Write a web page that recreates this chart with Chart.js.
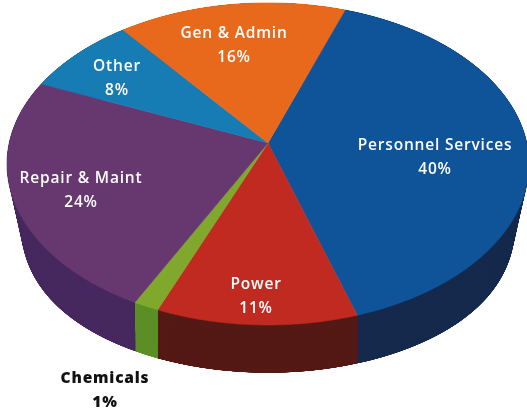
<!DOCTYPE html>
<html>
<head>
<meta charset="utf-8">
<style>html,body{margin:0;padding:0;background:#fff}canvas{display:block}</style>
<script src="https://cdn.jsdelivr.net/npm/chart.js@4"></script>
</head>
<body>
<canvas id="c" width="527" height="410"></canvas>
<script>
const categories = ["Personnel Services","Power","Chemicals","Repair & Maint","Other","Gen & Admin"];
const shares = [39.7,11.0,1.4,23.9,8.0,16.0];
const topColors = ["#0f5499","#c02a20","#7fa82c","#66386f","#187cb4","#e9691c"];
const sideColors = ["#15294c","#541914","#5b8f26","#46285f","#12567e","#c05a18"];
const labelColors = ["#fff","#fff","#111","#fff","#fff","#fff"];

// Perspective of the tilted disc and placement of the labels
const view = {cx:268, cy:143, A:258.8, B:158.3, k:0.13, s:0.96, sx:0.945, d:55};
const labelAt = [[435,150],[256,289],[105,383],[81,183],[117,71],[234,38]];

function topPoint(a){
  const u = Math.cos(a), v = Math.sin(a), w = 1 - view.k*v;
  return [view.cx + view.A*u/w, view.cy + view.B*v/w];
}
function bottomPoint(a){
  const u = Math.cos(a), v = Math.sin(a), w = 1 - view.k*v;
  const f = 1 - (1-view.sx)*u*u*u*u;
  return [view.cx + f*view.A*u/w, view.cy + view.s*view.B*v/w + view.d];
}
const disc3d = {
  id:'disc3d',
  beforeDatasetDraw(chart){
    const ctx = chart.ctx, arcs = chart.getDatasetMeta(0).data;
    const steps = a => Math.max(2, Math.ceil((a.endAngle-a.startAngle)/0.01));
    ctx.save();
    arcs.forEach((arc,i)=>{
      const n = steps(arc), da = (arc.endAngle-arc.startAngle)/n;
      ctx.fillStyle = sideColors[i];
      for(let j=0;j<n;j++){
        const a0 = arc.startAngle+da*Math.max(0,j-4), a1 = arc.startAngle+da*Math.min(n,j+5);
        const p=[topPoint(a0),topPoint(a1),bottomPoint(a1),bottomPoint(a0)];
        ctx.beginPath(); ctx.moveTo(p[0][0],p[0][1]);
        for(let q=1;q<4;q++) ctx.lineTo(p[q][0],p[q][1]);
        ctx.closePath(); ctx.fill();
      }
    });
    arcs.forEach((arc,i)=>{
      const n = steps(arc), da = (arc.endAngle-arc.startAngle)/n;
      ctx.beginPath(); ctx.moveTo(view.cx,view.cy);
      for(let j=0;j<=n;j++){
        const p = topPoint(arc.startAngle+da*j);
        ctx.lineTo(p[0],p[1]);
      }
      ctx.closePath();
      ctx.fillStyle = topColors[i]; ctx.strokeStyle = topColors[i]; ctx.lineWidth = 0.6;
      ctx.fill(); ctx.stroke();
    });
    ctx.restore();
    return false;
  },
  afterDatasetsDraw(chart){
    const ctx = chart.ctx;
    ctx.save();
    ctx.textAlign='center'; ctx.textBaseline='alphabetic';
    ctx.letterSpacing='0.8px';
    categories.forEach((name,i)=>{
      ctx.font = (labelColors[i]==='#111'?'800':'600')+' 15.5px "Open Sans"';
      ctx.fillStyle = labelColors[i];
      ctx.fillText(name,labelAt[i][0],labelAt[i][1]);
      ctx.fillText(Math.round(shares[i])+'%',labelAt[i][0],labelAt[i][1]+24);
    });
    ctx.restore();
  }
};
new Chart(document.getElementById('c'),{
  type:'pie',
  data:{labels:categories,datasets:[{data:shares,backgroundColor:topColors,borderWidth:0}]},
  options:{responsive:false,animation:false,rotation:19.5,
    plugins:{legend:{display:false},tooltip:{enabled:false},title:{display:false}}},
  plugins:[disc3d]
});
</script>
</body>
</html>
